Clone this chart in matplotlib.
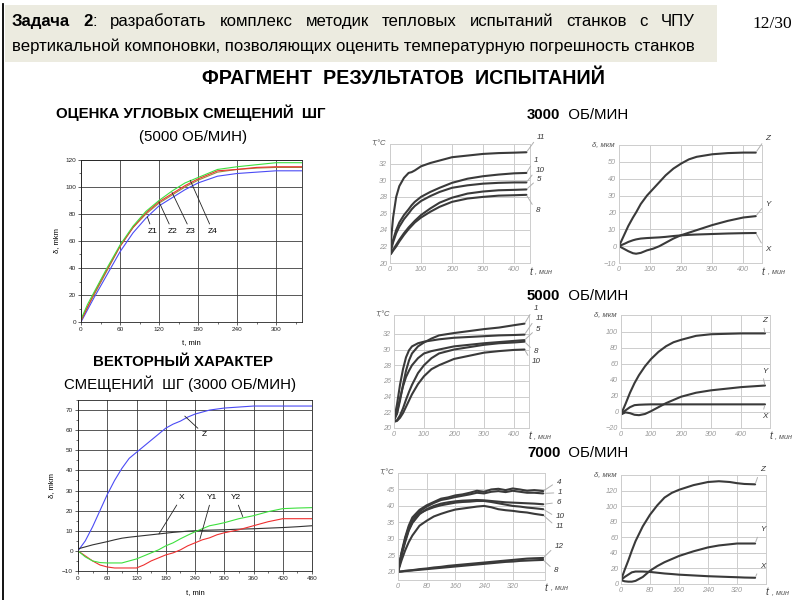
import matplotlib
matplotlib.use('Agg')
import matplotlib.pyplot as plt
from matplotlib import font_manager as fm
from matplotlib.patches import Rectangle
from matplotlib.lines import Line2D

# ---------------- DATA ----------------
# Left top: angular displacements (5000 rpm)
t_ang = [0, 10, 20, 40, 60, 80, 100, 120, 140, 160, 180, 210, 240, 270, 300, 340]
z1_ang = [0, 9, 18, 35, 52, 66, 77, 86, 92, 98, 103, 108, 110, 111, 112, 112]
z2_ang = [1, 11, 20, 38, 56, 70, 80, 88, 94, 100, 105, 111, 113, 114, 114.5, 114.5]
z3_ang = [1, 11, 21, 39, 56, 70, 81, 89, 95, 101, 106, 112, 113, 114.5, 115, 115]
z4_ang = [2, 13, 22, 40, 57, 71, 82, 90, 97, 103, 107, 113, 115, 116.5, 118, 118]

# Left bottom: vector displacements (3000 rpm)
t_vec = [0, 15, 30, 45, 60, 75, 90, 105, 120, 135, 150, 165, 180, 195, 210, 225, 240,
         255, 270, 285, 300, 330, 360, 390, 420, 450, 480]
z_vec = [0, 5, 12, 20, 28, 35, 41, 46, 49, 52, 55, 58, 61, 63, 64.5, 66.5, 68,
         69, 70, 70.5, 71, 71.5, 72, 72, 72, 72, 72]
x_vec = [1, 2, 3, 3.8, 4.6, 5.5, 6.3, 6.8, 7.2, 7.6, 8, 8.4, 8.8, 9.2, 9.5, 9.8, 10,
         10.2, 10.3, 10.4, 10.5, 10.8, 11, 11.3, 11.6, 12, 12.5]
y2_vec = [0, -3, -5, -5.8, -6, -6, -6, -5, -4, -2.5, -1, 0.5, 2.5, 4, 6, 7.8, 9.5,
          11, 12.5, 13.2, 14, 16, 17.5, 19.5, 21, 21.3, 21.5]
y1_vec = [0, -2.5, -5, -7, -8, -8.5, -8.5, -8.5, -8.5, -7, -5, -3.5, -2, -1, 0.5, 2.5, 4,
          5.5, 6.5, 8, 9, 10.5, 12.5, 14.5, 16, 16, 16]

# 3000 rpm temperatures
t_T3 = [0, 5, 10, 20, 30, 45, 60, 70, 80, 100, 130, 160, 200, 250, 300, 350, 400, 440]
T3 = {
    '11': [21, 23.5, 25.5, 28, 29.3, 30.3, 30.9, 31.0, 31.2, 31.7, 32.1, 32.4, 32.8, 33.0, 33.2, 33.3, 33.35, 33.4],
    '1':  [21, 22, 22.8, 24, 24.9, 25.8, 26.5, 27.0, 27.4, 28.0, 28.6, 29.1, 29.7, 30.2, 30.5, 30.7, 30.85, 30.9],
    '10': [21, 21.8, 22.5, 23.6, 24.4, 25.3, 26.0, 26.5, 26.9, 27.5, 28.1, 28.6, 29.1, 29.4, 29.6, 29.7, 29.75, 29.75],
    '5':  [21, 21.3, 21.6, 22.2, 22.8, 23.6, 24.3, 24.7, 25.1, 25.8, 26.6, 27.3, 27.9, 28.4, 28.65, 28.8, 28.85, 28.9],
    '8':  [21, 21.2, 21.5, 22.0, 22.6, 23.4, 24.1, 24.5, 24.9, 25.5, 26.2, 26.8, 27.4, 27.8, 28.0, 28.15, 28.2, 28.25],
}
T3_lab = {'11': (475, 35.2), '1': (465, 32.4), '10': (470, 31.2), '5': (475, 30.1), '8': (470, 26.4)}

# 3000 rpm displacements
t_d3 = [0, 10, 20, 30, 45, 55, 70, 90, 110, 130, 150, 175, 200, 225, 250, 300, 350, 400, 440]
D3 = {
    'Z': [0, 4, 8, 12, 17, 20, 25, 30, 34, 38, 42, 46, 49, 51.5, 53, 54.5, 55.2, 55.5, 55.5],
    'Y': [0, -1, -2, -3, -4.2, -4.5, -4, -2.5, -1.5, 0, 2, 4.5, 6.5, 8, 9.5, 12.5, 15, 17, 17.8],
    'X': [0, 0.8, 1.6, 2.5, 3.5, 4, 4.5, 4.8, 5, 5.2, 5.5, 6, 6.4, 6.7, 6.9, 7.2, 7.5, 7.7, 7.8],
}
D3_lab = {'Z': (471, 63.8), 'Y': (471, 25), 'X': (469, -1.8)}

# 5000 rpm temperatures
t_T5 = [0, 10, 20, 30, 40, 50, 60, 80, 100, 125, 150, 200, 250, 300, 350, 400, 435]
T5 = {
    '1':  [21, 21.8, 23.5, 25.5, 27.3, 28.6, 29.5, 30.4, 30.9, 31.4, 31.8, 32.1, 32.35, 32.6, 32.8, 33.1, 33.3],
    '11': [21, 23, 25.5, 27.5, 29, 29.9, 30.4, 30.8, 31.0, 31.15, 31.3, 31.5, 31.6, 31.7, 31.8, 31.85, 31.9],
    '5':  [21, 22, 23.8, 25.3, 26.5, 27.3, 28.0, 28.9, 29.5, 29.8, 30.0, 30.4, 30.6, 30.8, 30.95, 31.1, 31.2],
    '8':  [20.8, 21, 21.6, 22.5, 23.6, 24.6, 25.5, 27, 28, 28.9, 29.5, 30.0, 30.3, 30.6, 30.8, 30.9, 31.0],
    '10': [20.8, 20.9, 21.3, 21.9, 22.7, 23.5, 24.3, 25.6, 26.6, 27.5, 28.0, 28.8, 29.2, 29.6, 29.8, 29.95, 30.0],
}
T5_lab = {'1': (465, 35.2), '11': (472, 34.0), '5': (474, 32.6), '8': (467, 29.8), '10': (458, 28.5)}

# 5000 rpm displacements
t_d5 = [0, 15, 30, 45, 60, 80, 100, 125, 150, 175, 200, 250, 300, 350, 400, 480]
D5 = {
    'Z': [-3, 10, 24, 36, 46, 57, 66, 75, 82, 87, 90, 95, 97, 97.5, 98, 98],
    'Y': [-3, -0.5, -1.5, -3.5, -4, -2.5, 1, 6, 11, 15, 19, 24, 27, 29, 31, 33],
    'X': [-3, 2, 6, 8.5, 9, 9.3, 9.5, 9.5, 9.5, 9.5, 9.5, 9.5, 9.5, 9.5, 9.5, 9.5],
}
D5_lab = {'Z': (472, 114), 'Y': (469, 51), 'X': (469, -6)}

# 7000 rpm temperatures
t_T7 = [0, 10, 20, 30, 40, 60, 80, 100, 120, 140, 160, 180, 200, 220, 240, 260, 280,
        300, 320, 340, 360, 380, 405]
T7 = {
    '4':  [20, 26, 30.5, 34, 36.5, 38.8, 40.2, 41.2, 42.2, 42.6, 43.2, 43.5, 44.0, 44.6, 44.3, 45.0, 45.2, 44.8, 45.3, 45.0, 44.6, 44.8, 44.5],
    '1':  [20, 25.5, 30, 33.5, 35.8, 38.3, 39.8, 40.9, 41.8, 42.2, 42.7, 43.1, 43.5, 44.0, 43.8, 44.3, 44.5, 44.2, 44.6, 44.3, 44.0, 44.0, 43.8],
    '6':  [20, 25, 29, 32.5, 34.8, 37.5, 39.0, 40.0, 40.7, 41.1, 41.4, 41.6, 41.7, 41.8, 41.7, 41.5, 41.3, 41.1, 41.0, 40.9, 40.8, 40.7, 40.5],
    '10': [20, 25.5, 29.5, 32.8, 35, 37.8, 38.8, 39.6, 40.2, 40.6, 41.0, 41.2, 41.3, 41.5, 41.5, 41.2, 40.8, 40.4, 40.0, 39.8, 39.5, 39.3, 39.0],
    '11': [20, 23.5, 26.5, 29, 31, 34, 35.5, 36.8, 37.6, 38.3, 38.9, 39.2, 39.5, 39.8, 40.0, 39.6, 39.0, 38.7, 38.5, 38.2, 38.0, 37.6, 37.2],
    '12': [20, 20.1, 20.3, 20.4, 20.5, 20.8, 21.0, 21.3, 21.5, 21.8, 22.0, 22.2, 22.4, 22.6, 22.8, 23.0, 23.2, 23.4, 23.6, 23.8, 24.0, 24.1, 24.2],
    '8':  [20, 20.1, 20.2, 20.3, 20.4, 20.6, 20.8, 21.0, 21.2, 21.4, 21.6, 21.8, 22.0, 22.2, 22.4, 22.6, 22.8, 23.0, 23.1, 23.3, 23.4, 23.5, 23.6],
}
T7_lab = {'4': (442, 47.2), '1': (446, 44), '6': (442, 41.0), '10': (440, 36.7),
          '11': (440, 33.8), '12': (437, 27.6), '8': (435, 20.5)}

# 7000 rpm displacements
t_d7 = [0, 10, 20, 30, 40, 60, 80, 100, 120, 140, 160, 200, 240, 270, 300, 320, 340, 370]
D7 = {
    'Z': [5, 18, 30, 43, 55, 74, 89, 101, 111, 117, 121, 127, 131, 132, 131, 129.5, 128.5, 128],
    'Y': [5, 3.5, 3, 3, 4, 9, 17, 23, 28, 32, 36, 42, 47, 49.5, 51, 52, 52, 52],
    'X': [5, 9, 12, 15, 16, 16, 15.5, 14.5, 13.5, 12.8, 12, 11, 10, 9.5, 9, 8.7, 8.3, 8],
}
D7_lab = {'Z': (384, 146.6), 'Y': (384, 69.7), 'X': (384, 22.6)}

# ---------------- FIGURE ----------------
W, H = 795, 600
fig = plt.figure(figsize=(W / 100, H / 100), dpi=100)
fig.patch.set_facecolor('white')
renderer = fig.canvas.get_renderer()

names = {f.name for f in fm.fontManager.ttflist}
NARROW = 'Liberation Sans Narrow' if 'Liberation Sans Narrow' in names else 'Liberation Sans'
SANS = 'Liberation Sans' if 'Liberation Sans' in names else 'DejaVu Sans'
SERIF = 'Liberation Serif' if 'Liberation Serif' in names else 'DejaVu Serif'
plt.rcParams['font.family'] = [SANS, 'DejaVu Sans']


def fx(x):
    return x / W


def fy(y):
    return 1 - y / H


def add_ax(left, top, right, bottom):
    return fig.add_axes([fx(left), fy(bottom), (right - left) / W, (bottom - top) / H])


def text_width(t):
    return t.get_window_extent(renderer).width


# header background & frame
fig.add_artist(Rectangle((fx(5), fy(62)), (717 - 5) / W, (62 - 5) / H,
                         transform=fig.transFigure, facecolor='#ecebe0',
                         edgecolor='none', zorder=0))
fig.add_artist(Line2D([fx(3), fx(3)], [0, fy(4)], color='black', lw=1.3))

# header line 2 (sets font size)
line2 = fig.text(fx(12), fy(51.5), 'вертикальной компоновки, позволяющих оценить температурную погрешность станков',
                 family=[NARROW, 'DejaVu Sans'], fontsize=12, ha='left', va='baseline')
fs_head = 12 * 683 / text_width(line2)
line2.set_fontsize(fs_head)

# header line 1 (justified)
words = [[('Задача', 'bold')], [('2', 'bold'), (':', 'normal')], [('разработать', 'normal')],
         [('комплекс', 'normal')], [('методик', 'normal')], [('тепловых', 'normal')],
         [('испытаний', 'normal')], [('станков', 'normal')], [('с', 'normal')], [('ЧПУ', 'normal')]]
objs = []
total = 0
for w in words:
    parts = []
    for s, wt in w:
        t = fig.text(0, fy(26), s, family=[NARROW, 'DejaVu Sans'], fontsize=fs_head,
                     fontweight=wt, ha='left', va='baseline')
        wd = text_width(t)
        parts.append((t, wd))
        total += wd
    objs.append(parts)
gap = (683 - total) / (len(words) - 1)
xc = 12
for parts in objs:
    for t, wd in parts:
        t.set_x(fx(xc))
        xc += wd
    xc += gap

fig.text(fx(752), fy(27.5), '12/30', family=[SERIF], fontsize=12.5, ha='left', va='baseline')

# title
title = fig.text(fx(404), fy(78), 'ФРАГМЕНТ  РЕЗУЛЬТАТОВ  ИСПЫТАНИЙ', family=[NARROW, 'DejaVu Sans'],
                 fontweight='bold', fontsize=14, ha='center', va='center')
title.set_fontsize(14 * 403 / text_width(title))

# left headings
HS = 10.8
fig.text(fx(191), fy(113), 'ОЦЕНКА УГЛОВЫХ СМЕЩЕНИЙ  ШГ', fontsize=HS, fontweight='bold', ha='center', va='center')
fig.text(fx(193), fy(137), '(5000 ОБ/МИН)', fontsize=HS, ha='center', va='center')
fig.text(fx(183), fy(362), 'ВЕКТОРНЫЙ ХАРАКТЕР', fontsize=HS, fontweight='bold', ha='center', va='center')
fig.text(fx(180), fy(384), 'СМЕЩЕНИЙ  ШГ (3000 ОБ/МИН)', fontsize=HS, ha='center', va='center')

# right headings
for rpm, yy in (('3000', 119), ('5000', 300), ('7000', 457)):
    t1 = fig.text(fx(527), fy(yy), rpm, fontsize=HS, fontweight='bold', ha='left', va='baseline')
    w1 = text_width(t1)
    fig.text(fx(527 + w1), fy(yy), '  ОБ/МИН', fontsize=HS, ha='left', va='baseline')


# ---------------- LEFT CHARTS ----------------
def style_left(ax):
    ax.grid(True, color='#3c3c3c', lw=0.6)
    ax.tick_params(labelsize=4.6, length=2, width=0.5, pad=1.5, colors='#222')
    ax.tick_params(which='minor', length=1.2, width=0.4)
    for s in ax.spines.values():
        s.set_linewidth(0.6)
        s.set_color('#222')


ax1 = add_ax(81, 160, 302, 322)
ax1.plot(t_ang, z1_ang, color='#4b4bf5', lw=0.8)
ax1.plot(t_ang, z2_ang, color='#9c8d3e', lw=0.8)
ax1.plot(t_ang, z3_ang, color='#ee3030', lw=0.8)
ax1.plot(t_ang, z4_ang, color='#3ee03e', lw=0.8)
ax1.set_xlim(0, 340)
ax1.set_ylim(0, 120)
ax1.set_xticks(range(0, 301, 60))
ax1.set_yticks(range(0, 121, 20))
ax1.set_yticks(range(10, 120, 20), minor=True)
ax1.set_xticks(range(30, 340, 60), minor=True)
style_left(ax1)
for name, txy, xy in (('Z1', (110, 67), (102, 78)), ('Z2', (141, 67), (120, 89)),
                      ('Z3', (169, 67), (140, 96)), ('Z4', (203, 67), (168, 105))):
    ax1.annotate(name, xy=xy, xytext=txy, fontsize=6, ha='center', va='center',
                 arrowprops=dict(arrowstyle='-', color='#222', lw=0.6, shrinkA=1, shrinkB=0))
fig.text(fx(191), fy(343), 't, min', fontsize=5.5, ha='center', va='center')
fig.text(fx(57), fy(241), 'δ, mkm', fontsize=5.5, ha='center', va='center', rotation=90)

ax2 = add_ax(78, 400, 312, 571)
ax2.plot(t_vec, z_vec, color='#4b4bf5', lw=0.8)
ax2.plot(t_vec, x_vec, color='#333333', lw=0.8)
ax2.plot(t_vec, y1_vec, color='#ee3030', lw=0.8)
ax2.plot(t_vec, y2_vec, color='#3ee03e', lw=0.8)
ax2.set_xlim(0, 480)
ax2.set_ylim(-10, 75)
ax2.set_xticks(range(0, 481, 60))
ax2.set_yticks(range(-10, 71, 10))
ax2.set_xticks(range(30, 480, 60), minor=True)
ax2.set_yticks([v + 5 for v in range(-10, 71, 10)], minor=True)
style_left(ax2)
for name, txy, xy in (('Z', (259, 58), (219, 67)), ('X', (212, 26.5), (166, 8.4)),
                      ('Y1', (274, 26.5), (250, 5.8)), ('Y2', (323, 26.5), (338, 17))):
    ax2.annotate(name, xy=xy, xytext=txy, fontsize=6, ha='center', va='center',
                 arrowprops=dict(arrowstyle='-', color='#222', lw=0.6, shrinkA=1, shrinkB=0))
fig.text(fx(195), fy(593), 't, min', fontsize=5.5, ha='center', va='center')
fig.text(fx(52), fy(486), 'δ, mkm', fontsize=5.5, ha='center', va='center', rotation=90)


# ---------------- RIGHT CHARTS ----------------
def right_chart(rect, t, series, labels, xlim, ylim, xticks, yticks, ylabel):
    ax = add_ax(*rect)
    for name, vals in series.items():
        ax.plot(t, vals, color='#3a3a3a', lw=1.5, solid_capstyle='round')
        lx, ly = labels[name]
        ax.annotate(name, xy=(t[-1], vals[-1]), xytext=(lx, ly), textcoords='data',
                    fontsize=5.8, fontstyle='italic', color='#333', ha='left', va='center',
                    annotation_clip=False,
                    arrowprops=dict(arrowstyle='-', color='#b0b0b0', lw=0.7, shrinkA=1, shrinkB=1,
                                    relpos=(0, 0.5)))
    ax.set_xlim(*xlim)
    ax.set_ylim(*ylim)
    ax.set_xticks(xticks)
    ax.set_yticks(yticks)
    ax.grid(True, color='#cdcdcd', lw=0.7)
    for s in ax.spines.values():
        s.set_color('#cdcdcd')
        s.set_linewidth(0.7)
    ax.tick_params(length=0, labelsize=5.2, labelcolor='#9a9a9a', pad=2)
    for lab in ax.get_xticklabels() + ax.get_yticklabels():
        lab.set_fontstyle('italic')
    ax.text(-0.03, 1.0, ylabel, transform=ax.transAxes, ha='right', va='center',
            fontsize=5.5, fontstyle='italic', color='#555')
    ax.text(1.0, -0.075, 't', transform=ax.transAxes, ha='left', va='center',
            fontsize=7.5, fontstyle='italic', color='#444')
    ax.text(1.04, -0.075, ', мин', transform=ax.transAxes, ha='left', va='center',
            fontsize=5.2, fontstyle='italic', color='#555')
    return ax


right_chart((390, 144, 529.5, 263), t_T3, T3, T3_lab, (0, 450), (20, 34.4),
            range(0, 401, 100), range(20, 33, 2), 'T,°C')
right_chart((619, 145, 762, 263), t_d3, D3, D3_lab, (0, 460), (-10, 60),
            range(0, 401, 100), range(-10, 51, 10), 'δ, мкм')
right_chart((394, 315, 529, 428), t_T5, T5, T5_lab, (0, 450), (20, 34.4),
            range(0, 401, 100), range(20, 33, 2), 'T,°C')
right_chart((621, 315, 769.5, 428), t_d5, D5, D5_lab, (0, 495), (-20, 121),
            range(0, 401, 100), range(-20, 101, 20), 'δ, мкм')
right_chart((398, 473, 545, 580), t_T7, T7, T7_lab, (0, 410), (17.5, 50),
            range(0, 321, 80), range(20, 46, 5), 'T,°C')
right_chart((621, 475, 766, 584), t_d7, D7, D7_lab, (0, 400), (0, 140),
            range(0, 321, 80), range(0, 121, 20), 'δ, мкм')

fig.savefig('out.png', dpi=100)
